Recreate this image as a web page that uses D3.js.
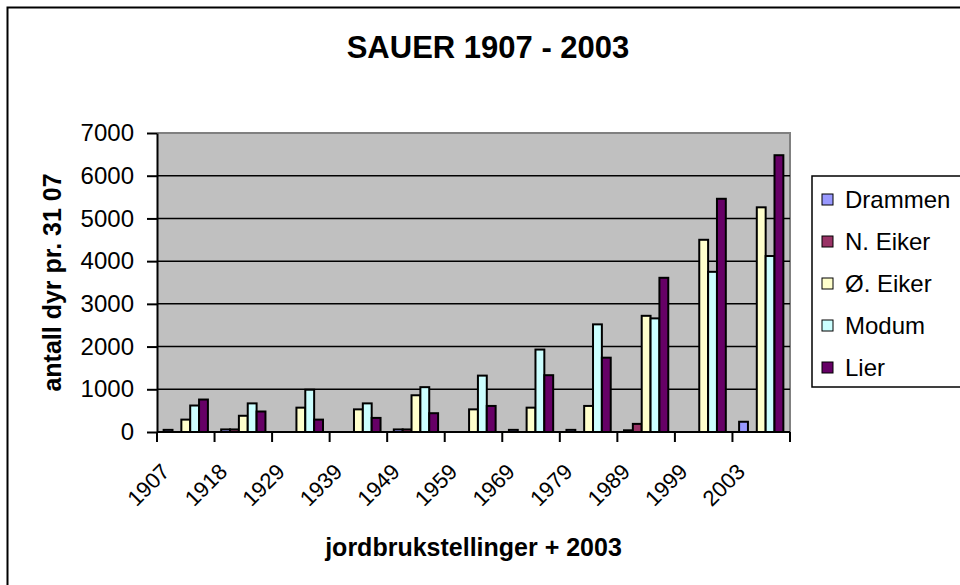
<!DOCTYPE html>
<html>
<head>
<meta charset="utf-8">
<script src="https://cdn.jsdelivr.net/npm/d3@7"></script>
<style>
  body { margin: 0; background: #fff; }
  svg { display: block; font-family: Arial, "Liberation Sans", sans-serif; }
</style>
</head>
<body>
<div id="chart"></div>
<script>
// categories and series
const years = ["1907", "1918", "1929", "1939", "1949", "1959", "1969", "1979", "1989", "1999", "2003"];
const seriesNames = ["Drammen", "N. Eiker", "Ø. Eiker", "Modum", "Lier"];
const drammen = [50, 60, 0, 0, 60, 0, 50, 50, 40, 0, 240];
const nEiker = [0, 60, 0, 0, 60, 0, 0, 0, 190, 0, 0];
const oEiker = [290, 380, 570, 530, 860, 530, 570, 610, 2720, 4500, 5260];
const modum = [620, 670, 990, 670, 1050, 1320, 1930, 2520, 2660, 3750, 4120];
const lier = [760, 480, 290, 330, 440, 610, 1330, 1740, 3610, 5460, 6480];
const yTicks = [0, 1000, 2000, 3000, 4000, 5000, 6000, 7000];
const colors = ["#9999ff", "#993366", "#ffffcc", "#ccffff", "#660066"];

const allSeries = [drammen, nEiker, oEiker, modum, lier];

const width = 960;
const height = 585;
const plot = {left: 157, right: 790, top: 133, bottom: 432};

const svg = d3.select("#chart")
  .append("svg")
  .attr("width", width)
  .attr("height", height);

// outer chart frame (runs off the right and bottom edge)
svg.append("rect")
  .attr("x", 7.5).attr("y", 7.5)
  .attr("width", 980).attr("height", 600)
  .attr("fill", "#fff")
  .attr("stroke", "#000")
  .attr("stroke-width", 2);

// title
svg.append("text")
  .attr("x", 488).attr("y", 58)
  .attr("text-anchor", "middle")
  .attr("font-size", "31px")
  .attr("font-weight", "bold")
  .text("SAUER 1907 - 2003");

// scales
const x = d3.scaleBand()
  .domain(years)
  .range([plot.left, plot.right])
  .paddingInner(0).paddingOuter(0);

const xInner = d3.scaleBand()
  .domain(seriesNames)
  .range([0, x.bandwidth()])
  .paddingInner(0)
  .paddingOuter(0.75);

const y = d3.scaleLinear()
  .domain([0, 7000])
  .range([plot.bottom, plot.top]);

// plot background
svg.append("rect")
  .attr("x", plot.left).attr("y", plot.top)
  .attr("width", plot.right - plot.left)
  .attr("height", plot.bottom - plot.top)
  .attr("fill", "#c0c0c0");

// top and right border of the plot area
svg.append("path")
  .attr("d", `M${plot.left},${plot.top}H${plot.right}V${plot.bottom}`)
  .attr("fill", "none")
  .attr("stroke", "#808080")
  .attr("stroke-width", 2);

// gridlines
svg.append("g")
  .selectAll("line")
  .data(yTicks.filter(d => d > 0 && d < 7000))
  .enter()
  .append("line")
    .attr("x1", plot.left).attr("x2", plot.right)
    .attr("y1", d => y(d)).attr("y2", d => y(d))
    .attr("stroke", "#000")
    .attr("stroke-width", 1.5);

// bars
const groups = svg.append("g")
  .selectAll("g")
  .data(years)
  .enter()
  .append("g")
    .attr("transform", d => `translate(${x(d)},0)`);

groups.selectAll("rect")
  .data((yr, i) => seriesNames.map((s, j) => ({name: s, value: allSeries[j][i], idx: j})))
  .enter()
  .filter(d => d.value > 0)
  .append("rect")
    .attr("x", d => xInner(d.name))
    .attr("y", d => y(d.value))
    .attr("width", xInner.bandwidth())
    .attr("height", d => plot.bottom - y(d.value))
    .attr("fill", d => colors[d.idx])
    .attr("stroke", "#000")
    .attr("stroke-width", 2);

// y axis
svg.append("g")
  .attr("transform", `translate(${plot.left},0)`)
  .call(d3.axisLeft(y).tickValues(yTicks).tickFormat(d3.format("d"))
    .tickSize(10).tickPadding(13).tickSizeOuter(0))
  .call(g => g.select(".domain").attr("stroke-width", 2))
  .call(g => g.selectAll(".tick line").attr("stroke-width", 2))
  .call(g => g.selectAll("text")
    .attr("font-size", "24px")
    .attr("font-family", "Arial, 'Liberation Sans', sans-serif")
    .attr("fill", "#000"));

// x axis: line plus ticks on category boundaries
const boundaries = years.map(d => x(d)).concat([plot.right]);
svg.append("line")
  .attr("x1", plot.left).attr("x2", plot.right)
  .attr("y1", plot.bottom).attr("y2", plot.bottom)
  .attr("stroke", "#000").attr("stroke-width", 2);

svg.append("g")
  .selectAll("line")
  .data(boundaries)
  .enter()
  .append("line")
    .attr("x1", d => d).attr("x2", d => d)
    .attr("y1", plot.bottom).attr("y2", plot.bottom + 10)
    .attr("stroke", "#000").attr("stroke-width", 2);

// rotated category labels
svg.append("g")
  .selectAll("text")
  .data(years)
  .enter()
  .append("text")
    .attr("transform", d => `translate(${x(d) + 14},${plot.bottom + 41}) rotate(-45)`)
    .attr("text-anchor", "end")
    .attr("font-size", "22px")
    .text(d => d);

// axis titles
svg.append("text")
  .attr("x", (plot.left + plot.right) / 2)
  .attr("y", 556)
  .attr("text-anchor", "middle")
  .attr("font-size", "25px")
  .attr("font-weight", "bold")
  .text("jordbrukstellinger + 2003");

svg.append("text")
  .attr("transform", `translate(61,${(plot.top + plot.bottom) / 2}) rotate(-90)`)
  .attr("text-anchor", "middle")
  .attr("font-size", "25px")
  .attr("font-weight", "bold")
  .text("antall dyr pr. 31 07");

// legend
const legend = svg.append("g");
legend.append("rect")
  .attr("x", 812).attr("y", 176)
  .attr("width", 170).attr("height", 211)
  .attr("fill", "#fff")
  .attr("stroke", "#000")
  .attr("stroke-width", 1.5);

const items = legend.selectAll("g.item")
  .data(seriesNames)
  .enter()
  .append("g")
    .attr("class", "item")
    .attr("transform", (d, i) => `translate(822,${200 + i * 42})`);

items.append("rect")
  .attr("x", 0).attr("y", -6)
  .attr("width", 11).attr("height", 11)
  .attr("fill", (d, i) => colors[i])
  .attr("stroke", "#000")
  .attr("stroke-width", 1);

items.append("text")
  .attr("x", 23).attr("y", 0)
  .attr("dy", "0.35em")
  .attr("font-size", "24px")
  .text(d => d);
</script>
</body>
</html>
